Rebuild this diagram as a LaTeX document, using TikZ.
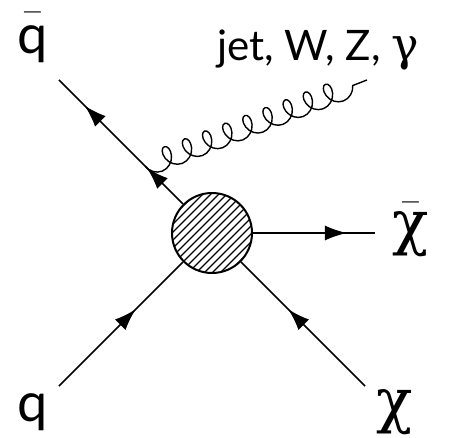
\documentclass[tikz,border=0pt]{standalone}
\usepackage{amsmath}
\usepackage{fontspec}
\setmainfont{Lato}
\newfontfamily\grk{DejaVu Serif}
\usetikzlibrary{arrows.meta,decorations.markings,decorations.pathmorphing}

\begin{document}
\begin{tikzpicture}[x=0.5pt, y=-0.5pt, line width=0.8pt,
    f/.style={postaction={decorate}, decoration={markings,
      mark=at position #1 with {\arrow{Latex[length=11pt,width=7.5pt]}}}},
    g/.style={decorate, decoration={coil, aspect=0.8, segment length=10.8pt,
      amplitude=5.5pt, mirror}},
    lab/.style={inner sep=0pt, font=\fontsize{27}{30}\selectfont},
    glab/.style={inner sep=0pt, font=\fontsize{30}{32}\selectfont\grk}]
  \useasboundingbox (0,0) rectangle (455,438);
  % blob
  \node[circle, draw, line width=1pt, minimum size=40pt, inner sep=0pt,
    path picture={\foreach \k in {-44,-40,...,44}
      \draw[line width=0.6pt, shift={(path picture bounding box.center)}]
        (\k pt-24pt,-24pt) -- (\k pt+24pt,24pt);}] (blob) at (212,233) {};
  % end points
  \coordinate (qb) at (59,80);
  \coordinate (gv) at (145,166);
  \coordinate (ge) at (367,80);
  \coordinate (xb) at (375,233);
  \coordinate (q) at (59,386);
  \coordinate (x) at (365,386);
  % lines
  \draw[f=0.95] (blob.135) -- (gv);
  \draw[f=0.7] (gv) -- (qb);
  \draw[f=0.77] (blob.east) -- (xb);
  \draw[f=0.62] (q) -- (blob.225);
  \draw[f=0.62] (x) -- (blob.315);
  \draw[g, line width=0.7pt] (gv) -- (ge);
  % labels
  \node[lab] (lqb) at (33,38) {$\bar{\text{q}\vphantom{l}}$};
  \node[glab] (lxb) at (411,230) {$\bar{\text{\grk χ}\vphantom{l}}$};
  \node[lab] (lq) at (33,412) {q};
  \node[glab] (lx) at (395,412) {χ};
  \node[inner sep=0pt, font=\fontsize{21}{24}\selectfont] (lj) at (318,50)
    {jet, W, Z, {\grk\fontsize{23}{26}\selectfont γ}};
\end{tikzpicture}
\end{document}
